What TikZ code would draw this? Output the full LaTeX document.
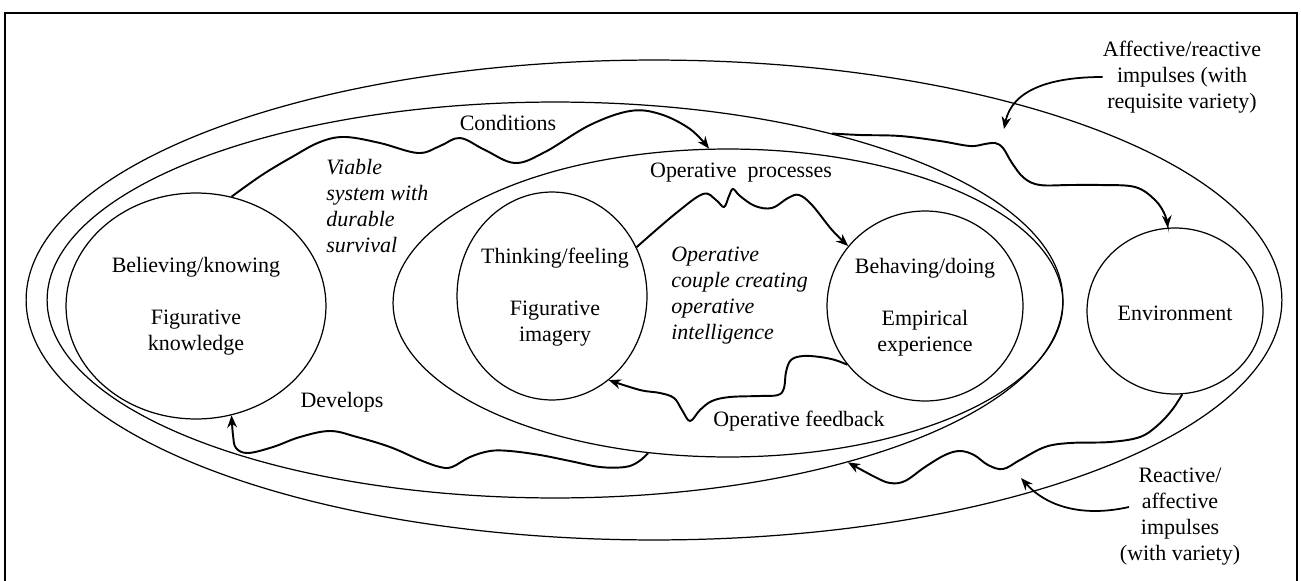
\documentclass[tikz,border=0pt]{standalone}
\usepackage{fontspec}
\setmainfont{Liberation Serif}
\usetikzlibrary{shapes.geometric,arrows.meta}

\begin{document}
\begin{tikzpicture}[x=0.02cm,y=-0.02cm,
        ring/.style={shape=ellipse,draw=black,line width=0.7pt,inner sep=0pt},
        lab/.style={font=\fontsize{12.5}{14.8}\selectfont,align=center,inner sep=0pt},
        ital/.style={font=\fontsize{12.5}{14.8}\selectfont\itshape,align=left,inner sep=0pt},
        wave/.style={-{Stealth[length=7pt,width=5.5pt]},line width=1.1pt},
        pointer/.style={-{Stealth[length=7pt,width=5.5pt]},line width=1pt}]
    \useasboundingbox (0,0) rectangle (1301,581);
    \draw[line width=1.1pt] (5,581) -- (5,13) -- (1297,13) -- (1297,581);

    \node[ring,minimum width=25.12cm,minimum height=9.6cm] (world) at (654,300) {};
    \node[ring,minimum width=20.32cm,minimum height=7.92cm] (viab) at (555,300) {};
    \node[ring,minimum width=13.4cm,minimum height=6.16cm] (oper) at (728,303) {};
    \node[ring,minimum width=5.2cm,minimum height=4.52cm] (bel) at (196,306) {};
    \node[ring,minimum width=3.8cm,minimum height=4.16cm] (thk) at (552,296) {};
    \node[ring,minimum width=3.92cm,minimum height=3.8cm] (beh) at (925,306) {};
    \node[ring,minimum width=3.52cm,minimum height=3.32cm] (envr) at (1175,311) {};

    \node[lab] (bel-txt) at (196,306) {Believing/knowing\\[14.8pt]Figurative\\knowledge};
    \node[lab] (thk-txt) at (555,297) {Thinking/feeling\\[14.8pt]Figurative\\imagery};
    \node[lab] (beh-txt) at (925,307) {Behaving/doing\\[14.8pt]Empirical\\experience};
    \node[lab] (envr-txt) at (1175,313) {Environment};
    \node[lab] (cond) at (508,123) {Conditions};
    \node[lab] (opproc) at (741,173) {Operative\ \ processes};
    \node[lab] (opfb) at (799,421) {Operative feedback};
    \node[lab] (dev) at (342,402) {Develops};
    \node[ital,anchor=west] (viable) at (326,206) {Viable\\system with\\durable\\survival};
    \node[ital,anchor=west] (couple) at (671,296) {Operative\\couple creating\\operative\\intelligence};
    \node[lab] (aff) at (1182,77) {Affective/reactive\\impulses (with\\requisite variety)};
    \node[lab] (rea) at (1180,517) {Reactive/\\affective\\impulses\\(with variety)};

    \coordinate (aff-tip) at (1004,129);
    \coordinate (rea-in) at (1129,507);
    \coordinate (rea-tip) at (1021,478);

    \draw[wave] plot[smooth,tension=0.6] coordinates {(bel.72) (262,175) (292,157) (320,142) (345,137) (380,143) (418,153) (440,146) (460,138) (485,150) (515,163) (545,152) (590,125) (630,111) (660,114) (690,129) (oper.97)};
    \draw[wave] plot[smooth,tension=0.6] coordinates {(thk.30) (675,214) (703,194) (716,200) (724,207) (729,196) (733,189) (740,196) (755,206) (772,208) (788,198) (799,195) (812,205) (832,230) (beh.142)};
    \draw[wave] plot[smooth,tension=0.6] coordinates {(beh.-143) (835,360) (820,357) (803,356) (791,360) (786,372) (784,388) (778,395) (760,396) (730,397) (712,401) (700,410) (690,421) (682,410) (674,398) (660,393) (640,390) (thk.-56)};
    \draw[wave] plot[smooth,tension=0.6] coordinates {(oper.-118) (638,462) (625,467) (600,467) (570,461) (540,455) (510,451) (490,451) (470,457) (452,467) (440,467) (420,460) (390,447) (357,437) (330,431) (300,437) (273,447) (248,453) (236,448) (233,435) (bel.-72)};
    \draw[wave] plot[smooth,tension=0.6] coordinates {(viab.31.5) (860,135) (900,136) (940,141) (970,146) (985,144) (995,143) (1003,148) (1012,163) (1024,178) (1040,185) (1070,185) (1100,185) (1135,187) (1155,200) (1165,215) (envr.95)};
    \draw[wave] plot[smooth,tension=0.6] coordinates {(envr.-85) (1172,410) (1158,425) (1140,437) (1110,442) (1070,443) (1045,447) (1020,460) (1003,469) (988,465) (974,455) (960,451) (945,455) (925,467) (905,481) (890,483) (875,477) (viab.-29)};
    \draw[pointer] (aff.west) .. controls (1050,77) and (1012,90) .. (aff-tip);
    \draw[pointer] (rea-in) .. controls (1080,518) and (1045,505) .. (rea-tip);
\end{tikzpicture}
\end{document}
